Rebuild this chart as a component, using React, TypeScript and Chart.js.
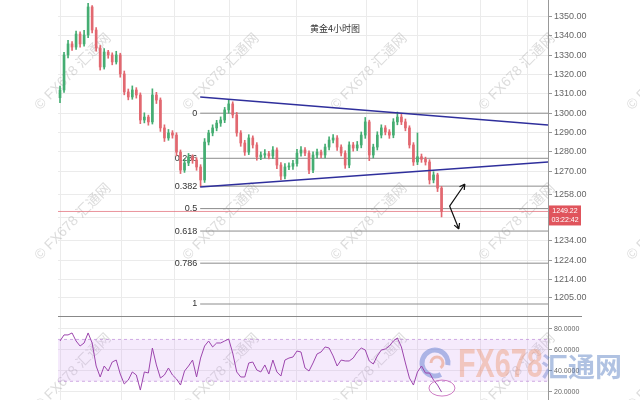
import React, { useEffect, useRef } from 'react';
import { Chart, registerables } from 'chart.js';

Chart.register(...registerables);

const TITLE = '黄金4小时图';
const WATERMARK = '© FX678 汇通网';

const open = [
  1308.0, 1312.0, 1330.1, 1335.8, 1334.2, 1340.9, 1335.8, 1340.4, 1354.9, 1343.0,
  1333.7, 1323.9, 1331.6, 1330.1, 1326.5, 1330.1, 1320.3, 1311.0, 1308.4, 1312.0,
  1309.4, 1296.5, 1298.0, 1295.5, 1309.4, 1306.8, 1292.4, 1287.2, 1289.8, 1288.7,
  1279.9, 1270.6, 1274.3, 1277.4, 1275.8, 1272.2, 1265.5, 1285.1, 1289.8, 1292.4,
  1294.9, 1296.5, 1301.7, 1304.8, 1299.1, 1289.8, 1284.6, 1279.9, 1287.2, 1283.6,
  1277.4, 1278.4, 1279.1, 1277.9, 1281.0, 1273.2, 1267.5, 1272.2, 1272.6, 1274.0,
  1279.4, 1281.0, 1279.4, 1270.6, 1278.4, 1279.9, 1278.4, 1282.5, 1286.1, 1287.2,
  1282.5, 1279.4, 1273.2, 1283.6, 1282.0, 1283.6, 1288.7, 1295.5, 1278.4, 1282.5,
  1288.7, 1292.4, 1290.3, 1288.7, 1295.5, 1298.0, 1295.5, 1292.4, 1283.6, 1274.8,
  1277.5, 1276.2, 1274.8, 1265.5, 1268.1, 1261.3,
];
const high = [
  1314.0, 1331.5, 1337.6, 1337.0, 1342.5, 1342.0, 1342.8, 1356.8, 1355.6, 1344.2,
  1335.0, 1333.4, 1332.5, 1331.2, 1332.0, 1331.0, 1321.8, 1312.5, 1314.1, 1313.2,
  1310.5, 1300.2, 1299.0, 1312.6, 1310.8, 1307.9, 1294.0, 1291.6, 1291.0, 1289.9,
  1281.0, 1276.1, 1279.2, 1278.5, 1277.0, 1273.4, 1286.9, 1291.2, 1294.0, 1296.3,
  1298.1, 1303.0, 1306.8, 1305.9, 1300.4, 1291.0, 1286.0, 1288.9, 1288.3, 1284.8,
  1280.0, 1281.2, 1280.3, 1282.7, 1282.1, 1274.5, 1274.0, 1274.4, 1275.6, 1281.3,
  1282.8, 1282.2, 1280.5, 1280.1, 1281.4, 1281.0, 1284.0, 1287.8, 1289.0, 1288.4,
  1283.7, 1280.6, 1285.2, 1284.9, 1285.4, 1290.3, 1297.8, 1296.4, 1284.0, 1290.4,
  1294.0, 1293.6, 1291.5, 1297.2, 1300.6, 1299.4, 1297.0, 1293.5, 1284.8, 1289.8,
  1278.9, 1277.3, 1276.0, 1269.8, 1269.0, 1262.2,
];
const low = [
  1305.5, 1310.8, 1328.6, 1332.5, 1333.0, 1334.1, 1334.6, 1339.0, 1341.5, 1332.0,
  1322.3, 1322.8, 1328.4, 1325.0, 1325.4, 1318.6, 1309.5, 1306.9, 1307.2, 1307.8,
  1294.6, 1295.0, 1293.8, 1294.4, 1305.0, 1290.6, 1285.4, 1286.0, 1287.1, 1278.0,
  1268.8, 1269.4, 1272.9, 1274.1, 1270.5, 1262.0, 1264.2, 1283.6, 1288.3, 1290.9,
  1293.2, 1295.1, 1300.0, 1297.6, 1288.1, 1282.9, 1278.2, 1278.6, 1282.0, 1275.7,
  1276.0, 1276.9, 1276.4, 1276.5, 1271.4, 1265.6, 1266.0, 1270.8, 1271.0, 1272.6,
  1277.8, 1278.0, 1268.7, 1269.3, 1276.8, 1277.0, 1276.9, 1281.0, 1284.6, 1280.8,
  1277.9, 1271.5, 1271.8, 1280.4, 1280.7, 1282.1, 1287.0, 1275.5, 1276.9, 1281.0,
  1287.2, 1288.8, 1287.0, 1287.3, 1294.0, 1294.1, 1290.9, 1282.0, 1273.0, 1273.4,
  1274.6, 1273.2, 1263.4, 1264.0, 1259.5, 1246.4,
];
const close = [
  1312.0, 1330.1, 1335.8, 1334.2, 1340.9, 1335.8, 1340.4, 1354.9, 1343.0, 1333.7,
  1323.9, 1331.6, 1330.1, 1326.5, 1330.1, 1320.3, 1311.0, 1308.4, 1312.0, 1309.4,
  1296.5, 1298.0, 1295.5, 1309.4, 1306.8, 1292.4, 1287.2, 1289.8, 1288.7, 1279.9,
  1270.6, 1274.3, 1277.4, 1275.8, 1272.2, 1265.5, 1285.1, 1289.8, 1292.4, 1294.9,
  1296.5, 1301.7, 1304.8, 1299.1, 1289.8, 1284.6, 1279.9, 1287.2, 1283.6, 1277.4,
  1278.4, 1279.1, 1277.9, 1281.0, 1273.2, 1267.5, 1272.2, 1272.6, 1274.0, 1279.4,
  1281.0, 1279.4, 1270.6, 1278.4, 1279.9, 1278.4, 1282.5, 1286.1, 1287.2, 1282.5,
  1279.4, 1273.2, 1283.6, 1282.0, 1283.6, 1288.7, 1295.5, 1278.4, 1282.5, 1288.7,
  1292.4, 1290.3, 1288.7, 1295.5, 1298.0, 1295.5, 1292.4, 1283.6, 1274.8, 1277.5,
  1276.2, 1274.8, 1265.5, 1268.1, 1261.3, 1249.22,
];
const rsi = [
  68.5, 74.3, 74.3, 76.2, 68.5, 63.7, 66.6, 76.2, 66.6, 44.6,
  34.1, 44.6, 39.8, 48.4, 50.3, 36.9, 27.4, 31.2, 38.9, 36.0,
  21.6, 38.9, 37.9, 61.8, 45.6, 33.1, 36.0, 42.7, 36.0, 32.2,
  26.4, 39.8, 44.6, 50.3, 34.1, 52.2, 63.7, 68.5, 62.8, 66.6,
  66.6, 68.5, 70.4, 57.0, 38.9, 34.1, 34.1, 47.5, 48.4, 40.8,
  38.9, 45.6, 36.9, 50.3, 38.9, 35.0, 50.3, 52.2, 53.2, 58.9,
  58.0, 42.7, 39.8, 47.5, 56.1, 58.0, 62.8, 61.8, 54.2, 44.6,
  50.3, 49.4, 49.4, 52.2, 58.0, 61.8, 59.9, 49.4, 46.5, 54.2,
  59.9, 60.9, 63.7, 68.5, 71.4, 62.8, 47.5, 33.1, 26.4, 38.9,
  44.6, 37.9, 37.9, 31.2, 26.4, 19.7,
];

const priceTicks = [1205, 1214, 1224, 1234, 1246, 1258, 1270, 1280, 1290, 1300, 1310, 1320, 1330, 1340, 1350, 1360];
const hiddenPriceLabels = [1246];
const rsiTicks = [20, 40, 60, 80];
const dayBreaks = [0, 15.4, 28.6, 42.3, 59, 76.4, 88.9, 104.6, 116.5];

const fibLabels = ['0', '0.236', '0.382', '0.5', '0.618', '0.786', '1'];
const fibPrices = [1300, 1276.7, 1262.3, 1250.7, 1239.1, 1222.5, 1201.4];
const fibStart = 34.9;

const upperTrend = [{ x: 34.9, y: 1308.4 }, { x: 121.5, y: 1293.9 }];
const lowerTrend = [{ x: 34.9, y: 1261.9 }, { x: 121.5, y: 1274.8 }];

const lastPrice = 1249.22;
const lastTime = '03:22:42';
const arrowFrom = { x: 97, y: 1252.0 };
const arrowTargets = [{ x: 100.8, y: 1263.4 }, { x: 99.3, y: 1240.2 }];
const rsiCircle = { x: 95.1, y: 23.5 };
const rsiBand = [30, 70];

const X_MIN = -0.5;
const X_MAX = 121.5;
const PRICE_MIN = 1195.2;
const PRICE_MAX = 1358.5;
const RSI_MIN = 12.1;
const RSI_MAX = 92.4;

const SANS = '"Liberation Sans", Arial, sans-serif';
const CJK = '"Noto Sans CJK SC", sans-serif';

const overlay = {
  id: 'overlay',
  beforeDatasetsDraw(chart: any) {
    const ctx = chart.ctx;
    const xs = chart.scales.x;
    const ys = chart.scales.y;
    // watermarks
    ctx.save();
    ctx.font = `14px "Liberation Sans", Arial, "Noto Sans CJK SC", sans-serif`;
    ctx.fillStyle = 'rgba(150,150,150,0.33)';
    ctx.textAlign = 'center';
    ctx.textBaseline = 'middle';
    for (const cy of [72, 222, 372]) {
      for (const cx of [73, 221, 369, 517, 665]) {
        ctx.save();
        ctx.translate(cx, cy);
        ctx.rotate(-Math.PI / 4);
        ctx.fillText(WATERMARK, 0, 0);
        ctx.restore();
      }
    }
    ctx.restore();

    // fib labels
    ctx.save();
    ctx.font = `9px ${SANS}`;
    ctx.fillStyle = '#333';
    ctx.textAlign = 'right';
    ctx.textBaseline = 'middle';
    const lx = xs.getPixelForValue(fibStart) - 3;
    fibPrices.forEach((p, i) => ctx.fillText(fibLabels[i], lx, ys.getPixelForValue(p)));
    ctx.restore();

    // big logo in RSI pane
    ctx.save();
    ctx.lineWidth = 5;
    ctx.strokeStyle = 'rgba(70,120,200,0.5)';
    ctx.beginPath();
    ctx.arc(435, 363, 13, Math.PI * 0.35, Math.PI * 2.05);
    ctx.stroke();
    ctx.lineWidth = 3;
    ctx.strokeStyle = 'rgba(240,140,70,0.5)';
    ctx.beginPath();
    ctx.arc(437, 363, 6, Math.PI * 1.0, Math.PI * 2.3);
    ctx.stroke();
    ctx.fillStyle = 'rgba(245,150,80,0.45)';
    ctx.font = `bold 40px ${SANS}`;
    ctx.textAlign = 'left';
    ctx.textBaseline = 'alphabetic';
    ctx.save();
    ctx.translate(458, 377);
    ctx.scale(0.72, 1);
    ctx.fillText('FX678', 0, 0);
    ctx.restore();
    ctx.fillStyle = 'rgba(80,120,190,0.45)';
    ctx.font = `bold 27px ${CJK}`;
    ctx.fillText('汇通网', 541, 377);
    ctx.restore();
  },
  afterDraw(chart: any) {
    const ctx = chart.ctx;
    const xs = chart.scales.x;
    const ys = chart.scales.y;
    const rs = chart.scales.rsi;
    const area = chart.chartArea;

    // pane separator
    ctx.save();
    ctx.strokeStyle = '#888';
    ctx.lineWidth = 1;
    ctx.beginPath();
    ctx.moveTo(area.left, Math.round(ys.bottom) + 0.5);
    ctx.lineTo(582, Math.round(ys.bottom) + 0.5);
    ctx.stroke();
    ctx.restore();

    // last price box
    const py = ys.getPixelForValue(lastPrice);
    ctx.save();
    ctx.fillStyle = '#e0545c';
    ctx.fillRect(area.right + 1, py - 6, 32, 20);
    ctx.fillStyle = '#fff';
    ctx.font = `7px ${SANS}`;
    ctx.textAlign = 'center';
    ctx.textBaseline = 'middle';
    ctx.fillText(lastPrice.toFixed(2), area.right + 17, py - 0.5);
    ctx.fillText(lastTime, area.right + 17, py + 9);
    ctx.restore();

    // title
    ctx.save();
    ctx.font = `9px ${CJK}`;
    ctx.fillStyle = '#333';
    ctx.textAlign = 'center';
    ctx.textBaseline = 'middle';
    ctx.fillText(TITLE, 335, 29);
    ctx.restore();

    // arrows
    ctx.save();
    ctx.strokeStyle = '#111';
    ctx.lineWidth = 1.2;
    const x1 = xs.getPixelForValue(arrowFrom.x);
    const y1 = ys.getPixelForValue(arrowFrom.y);
    arrowTargets.forEach((t) => {
      const x2 = xs.getPixelForValue(t.x);
      const y2 = ys.getPixelForValue(t.y);
      const a = Math.atan2(y2 - y1, x2 - x1);
      const L = 6;
      ctx.beginPath();
      ctx.moveTo(x1, y1);
      ctx.lineTo(x2, y2);
      ctx.moveTo(x2, y2);
      ctx.lineTo(x2 - L * Math.cos(a - 0.5), y2 - L * Math.sin(a - 0.5));
      ctx.moveTo(x2, y2);
      ctx.lineTo(x2 - L * Math.cos(a + 0.5), y2 - L * Math.sin(a + 0.5));
      ctx.stroke();
    });
    ctx.restore();

    // RSI circle
    ctx.save();
    ctx.strokeStyle = 'rgba(200,110,190,0.9)';
    ctx.lineWidth = 1;
    ctx.beginPath();
    ctx.ellipse(xs.getPixelForValue(rsiCircle.x), rs.getPixelForValue(rsiCircle.y), 13, 8, 0, 0, Math.PI * 2);
    ctx.stroke();
    ctx.restore();
  },
};

export default function App() {
  const ref = useRef<HTMLCanvasElement>(null);

  useEffect(() => {
    const canvas = ref.current;
    if (!canvas) return;
    const up = '#45ad72';
    const down = '#e26870';
    const colors = close.map((c, i) => (c >= open[i] ? up : down));
    const flat = (y0: number, x0: number) => [{ x: x0, y: y0 }, { x: X_MAX, y: y0 }];

    const chart = new Chart(canvas, {
      type: 'bar',
      data: {
        datasets: [
          {
            type: 'line',
            data: flat(lastPrice, X_MIN),
            borderColor: 'rgba(225,110,120,0.75)',
            borderWidth: 1,
            pointRadius: 0,
            yAxisID: 'y',
            order: 6,
          },
          ...fibPrices.map((p) => ({
            type: 'line',
            data: flat(p, fibStart),
            borderColor: '#8c8c8c',
            borderWidth: 1,
            pointRadius: 0,
            yAxisID: 'y',
            order: 5,
          })),
          {
            type: 'bar',
            data: low.map((l, i) => ({ x: i, y: [l, high[i]] })),
            backgroundColor: colors,
            barThickness: 1,
            grouped: false,
            yAxisID: 'y',
            order: 4,
          },
          {
            type: 'bar',
            data: open.map((o, i) => ({ x: i, y: [o, close[i]] })),
            backgroundColor: colors,
            barThickness: 2,
            minBarLength: 1,
            grouped: false,
            yAxisID: 'y',
            order: 3,
          },
          {
            type: 'line',
            data: upperTrend,
            borderColor: '#2f2f9c',
            borderWidth: 1.6,
            pointRadius: 0,
            yAxisID: 'y',
            order: 2,
          },
          {
            type: 'line',
            data: lowerTrend,
            borderColor: '#2f2f9c',
            borderWidth: 1.6,
            pointRadius: 0,
            yAxisID: 'y',
            order: 2,
          },
          {
            type: 'line',
            data: flat(rsiBand[1], X_MIN),
            borderColor: 'rgba(190,140,215,0.7)',
            borderDash: [3, 3],
            borderWidth: 1,
            pointRadius: 0,
            fill: { value: rsiBand[0] },
            backgroundColor: 'rgba(210,160,240,0.22)',
            yAxisID: 'rsi',
            order: 7,
          },
          {
            type: 'line',
            data: flat(rsiBand[0], X_MIN),
            borderColor: 'rgba(190,140,215,0.7)',
            borderDash: [3, 3],
            borderWidth: 1,
            pointRadius: 0,
            yAxisID: 'rsi',
            order: 7,
          },
          {
            type: 'line',
            data: rsi.map((v, i) => ({ x: i, y: v })),
            borderColor: '#9c45ad',
            borderWidth: 1,
            pointRadius: 0,
            tension: 0,
            yAxisID: 'rsi',
            order: 1,
          },
        ] as any,
      },
      options: {
        responsive: false,
        maintainAspectRatio: false,
        devicePixelRatio: 1,
        animation: false,
        events: [],
        layout: { padding: { left: 58, right: 0, top: 0, bottom: 0 } },
        plugins: { legend: { display: false }, tooltip: { enabled: false }, title: { display: false } },
        scales: {
          x: {
            type: 'linear',
            min: X_MIN,
            max: X_MAX,
            offset: false,
            grid: { color: '#ebebeb', drawTicks: false, offset: false },
            border: { display: false },
            ticks: { display: false },
            afterBuildTicks: (s: any) => {
              s.ticks = dayBreaks.map((v) => ({ value: v }));
            },
          },
          y: {
            type: 'linear',
            position: 'right',
            stack: 'panes',
            stackWeight: 316,
            min: PRICE_MIN,
            max: PRICE_MAX,
            afterBuildTicks: (s: any) => {
              s.ticks = priceTicks.map((v) => ({ value: v }));
            },
            afterFit: (s: any) => {
              s.width = 92;
              s.paddingTop = 0;
              s.paddingBottom = 0;
            },
            grid: { color: '#ebebeb', tickLength: 4, tickColor: '#999' },
            border: { color: '#999' },
            ticks: {
              autoSkip: false,
              color: '#666',
              padding: 2,
              font: { size: 9, family: SANS },
              callback: (v: any) => (hiddenPriceLabels.includes(Number(v)) ? '' : Number(v).toFixed(2)),
            },
          },
          rsi: {
            type: 'linear',
            position: 'right',
            stack: 'panes',
            stackWeight: 84,
            min: RSI_MIN,
            max: RSI_MAX,
            afterBuildTicks: (s: any) => {
              s.ticks = rsiTicks.map((v) => ({ value: v }));
            },
            afterFit: (s: any) => {
              s.width = 92;
              s.paddingTop = 0;
              s.paddingBottom = 0;
            },
            grid: { color: '#ebebeb', tickLength: 4, tickColor: '#999' },
            border: { color: '#999' },
            ticks: {
              autoSkip: false,
              color: '#666',
              padding: 2,
              font: { size: 7, family: SANS },
              callback: (v: any) => Number(v).toFixed(4),
            },
          },
        } as any,
      },
      plugins: [overlay],
    });

    return () => chart.destroy();
  }, []);

  return (
    <div style={{ position: 'fixed', left: 0, top: 0, width: 640, height: 400, background: '#fff' }}>
      <canvas ref={ref} width={640} height={400} style={{ display: 'block', width: 640, height: 400 }} />
    </div>
  );
}
